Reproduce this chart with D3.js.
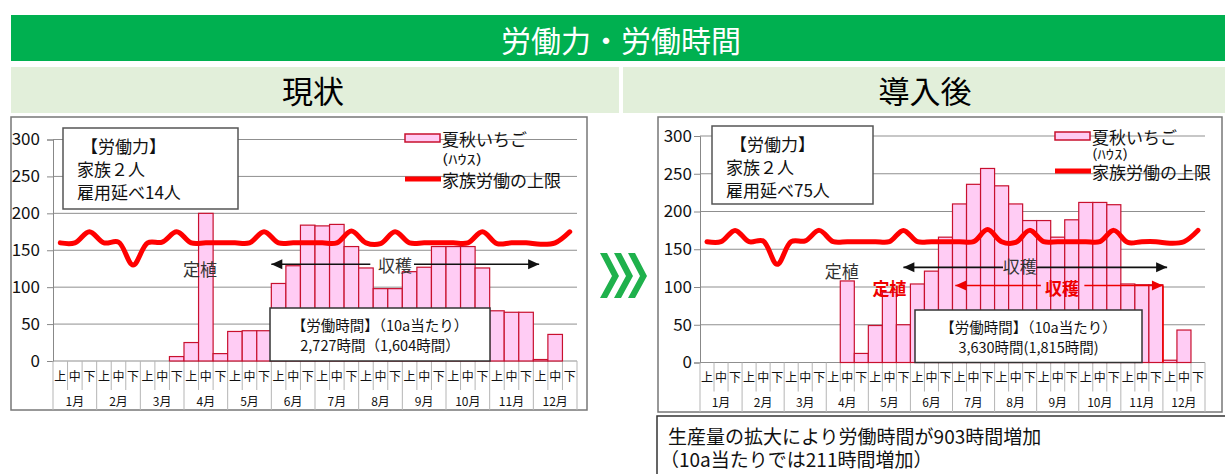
<!DOCTYPE html>
<html>
<head>
<meta charset="utf-8">
<script src="https://cdn.jsdelivr.net/npm/d3@7"></script>
<style>
  body { margin: 0; background: #fff; }
  text { font-family: "Noto Sans CJK JP", "Noto Sans", sans-serif; }
</style>
</head>
<body>
<div id="chart"></div>
<script>
// ---- data ----
const months = ["1月", "2月", "3月", "4月", "5月", "6月", "7月", "8月", "9月", "10月", "11月", "12月"];
const dekads = ["上", "中", "下"];
const categories = months.flatMap(m => dekads.map(d => m + d));
const yTicks = [0, 50, 100, 150, 200, 250, 300];

// 夏秋いちご (ハウス) working hours per dekad
const currentHours = [0, 0, 0, 0, 0, 0, 0, 0, 6, 25, 200, 10, 40, 41, 41, 105, 129, 184,
    183, 185, 155, 126, 98, 98, 121, 127, 155, 155, 155, 126, 68, 66, 66, 2, 36, 0];
const afterHours = [0, 0, 0, 0, 0, 0, 0, 0, 0, 0, 108, 12, 49, 93, 50, 104, 121, 166,
    210, 236, 257, 234, 210, 188, 188, 166, 189, 212, 212, 209, 104, 103, 103, 3, 43, 0];
// 家族労働の上限
const familyLimit = [160, 160, 175, 160, 161, 130, 160, 161, 175, 160, 160, 160, 160, 160, 175, 160, 160, 160,
    160, 160, 176, 160, 159, 175, 160, 160, 160, 160, 160, 175, 159, 160, 160, 158, 160, 175];

const W = 1225, H = 474;
const svg = d3.select("#chart").append("svg")
    .attr("width", W)
    .attr("height", H);

// ---- headers ----
svg.append("rect").attr("x", 11).attr("y", 15).attr("width", W - 11).attr("height", 46).attr("fill", "#00b050");
svg.append("text").attr("x", 621).attr("y", 39).attr("text-anchor", "middle").attr("dominant-baseline", "central")
    .attr("fill", "#fff").attr("font-size", 30).text("労働力・労働時間");

svg.append("rect").attr("x", 11).attr("y", 67).attr("width", 608).attr("height", 46).attr("fill", "#e2efda");
svg.append("rect").attr("x", 623).attr("y", 67).attr("width", W - 623).attr("height", 46).attr("fill", "#e2efda");
svg.append("text").attr("x", 313).attr("y", 89).attr("text-anchor", "middle").attr("dominant-baseline", "central")
    .attr("font-size", 31).text("現状");
svg.append("text").attr("x", 925).attr("y", 89).attr("text-anchor", "middle").attr("dominant-baseline", "central")
    .attr("font-size", 31).text("導入後");

// ---- chart drawing ----
function drawChart(cfg) {
    const g = svg.append("g");

    // outer frame
    g.append("rect")
        .attr("x", cfg.box[0]).attr("y", cfg.box[1])
        .attr("width", cfg.box[2] - cfg.box[0]).attr("height", cfg.box[3] - cfg.box[1])
        .attr("fill", "#fff").attr("stroke", "#777").attr("stroke-width", 1.5);

    const x = d3.scaleBand().domain(categories).range([cfg.x0, cfg.x1]).padding(0);
    const xm = d3.scaleBand().domain(months).range([cfg.x0, cfg.x1]).padding(0);
    const y = d3.scaleLinear().domain([0, 300]).range([cfg.y0, cfg.yTop]);
    const bw = x.bandwidth();

    // gridlines
    g.selectAll(".grid").data(yTicks).enter().append("line")
        .attr("x1", cfg.x0).attr("x2", cfg.x1)
        .attr("y1", d => y(d)).attr("y2", d => y(d))
        .attr("stroke", "#8f8f8f").attr("stroke-width", 1);

    // y axis
    const yAxis = g.append("g")
        .attr("transform", `translate(${cfg.x0},0)`)
        .call(d3.axisLeft(y).tickValues(yTicks).tickSize(6).tickPadding(cfg.tickPad));
    yAxis.select(".domain").attr("stroke", "#888");
    yAxis.selectAll(".tick line").attr("stroke", "#888");
    yAxis.selectAll(".tick text").attr("font-size", 17).attr("fill", "#111")
        .style("font-family", "'Noto Sans CJK JP', sans-serif");

    // category rows: dekad separators and month separators
    const sepIdx = d3.range(categories.length + 1);
    g.selectAll(".sep").data(sepIdx).enter().append("line")
        .attr("x1", i => cfg.x0 + i * bw).attr("x2", i => cfg.x0 + i * bw)
        .attr("y1", cfg.y0)
        .attr("y2", i => i % 3 === 0 ? cfg.box[3] : cfg.y0 + 29)
        .attr("stroke", "#b5b5b5").attr("stroke-width", 1);

    const dAxis = g.append("g")
        .attr("transform", `translate(0,${cfg.y0 + 16})`)
        .call(d3.axisBottom(x).tickSize(0).tickPadding(0).tickFormat(d => d.slice(-1)));
    dAxis.select(".domain").remove();
    dAxis.selectAll("text").attr("font-size", 12).attr("fill", "#111").attr("dy", "0.32em")
        .style("font-family", "'Noto Sans CJK JP', sans-serif");

    const mAxis = g.append("g")
        .attr("transform", `translate(0,${cfg.y0 + 41})`)
        .call(d3.axisBottom(xm).tickSize(0).tickPadding(0));
    mAxis.select(".domain").remove();
    mAxis.selectAll("text").attr("font-size", 12).attr("fill", "#111").attr("dy", "0.32em")
        .style("font-family", "'Noto Sans CJK JP', sans-serif");

    // bars
    const barData = categories.map((c, i) => ({ c, v: cfg.bars[i] })).filter(d => d.v > 0);
    g.selectAll(".bar").data(barData).enter().append("rect")
        .attr("x", d => x(d.c))
        .attr("y", d => y(d.v))
        .attr("width", bw)
        .attr("height", d => y(0) - y(d.v))
        .attr("fill", "#ffccf4")
        .attr("stroke", "#c8102e")
        .attr("stroke-width", 1.2);

    // family labour upper-limit line
    const line = d3.line()
        .x((d, i) => x(categories[i]) + bw / 2)
        .y(d => y(d))
        .curve(d3.curveCatmullRom);
    g.append("path").datum(familyLimit)
        .attr("d", line)
        .attr("fill", "none").attr("stroke", "#ff0000").attr("stroke-width", 5)
        .attr("stroke-linejoin", "round").attr("stroke-linecap", "round");

    // annotations
    const px = idx => cfg.x0 + idx * bw;
    cfg.notes.forEach(n => {
        g.append("text").attr("x", px(n.at)).attr("y", y(n.v))
            .attr("text-anchor", "middle").attr("dominant-baseline", "central")
            .attr("font-size", 17).attr("fill", n.color)
            .attr("font-weight", n.bold ? "bold" : null)
            .text(n.label);
    });
    cfg.arrows.forEach(a => {
        const ay = y(a.v);
        const segs = [[px(a.from), px(a.gap[0])], [px(a.gap[1]), px(a.to)]];
        segs.forEach(s => g.append("line")
            .attr("x1", s[0]).attr("x2", s[1]).attr("y1", ay).attr("y2", ay)
            .attr("stroke", a.color).attr("stroke-width", 1.6));
        g.append("path")
            .attr("d", `M${px(a.from)},${ay} l11,-5 l0,10 z`).attr("fill", a.color);
        g.append("path")
            .attr("d", `M${px(a.to)},${ay} l-11,-5 l0,10 z`).attr("fill", a.color);
        if (a.drop) {
            g.append("line").attr("x1", px(a.to)).attr("x2", px(a.to))
                .attr("y1", ay).attr("y2", y(0))
                .attr("stroke", a.color).attr("stroke-width", 1.6);
        }
    });

    // labour force box
    const lb = cfg.labourBox;
    g.append("rect").attr("x", lb[0]).attr("y", lb[1]).attr("width", lb[2]).attr("height", lb[3])
        .attr("fill", "#fff").attr("stroke", "#555").attr("stroke-width", 1.5);
    ["【労働力】", "家族２人", cfg.hired].forEach((t, i) => {
        g.append("text").attr("x", lb[0] + (i === 0 ? 18 : 14)).attr("y", lb[1] + 25 + i * 23)
            .attr("font-size", 17).attr("fill", "#111").text(t);
    });

    // working hours box
    const hb = cfg.hoursBox;
    g.append("rect").attr("x", hb[0]).attr("y", hb[1]).attr("width", hb[2]).attr("height", hb[3])
        .attr("fill", "#fff").attr("stroke", "#333").attr("stroke-width", 1.5);
    ["【労働時間】（10a当たり）", cfg.hoursText].forEach((t, i) => {
        g.append("text").attr("x", hb[0] + hb[2] / 2).attr("y", hb[1] + 23 + i * 20)
            .attr("text-anchor", "middle").attr("font-size", 14.5).attr("fill", "#111").text(t);
    });

    // legend
    const lg = cfg.legend;
    g.append("rect").attr("x", lg[0]).attr("y", lg[1] - 4).attr("width", 35).attr("height", 8)
        .attr("fill", "#ffccf4").attr("stroke", "#c8102e").attr("stroke-width", 1.5);
    g.append("text").attr("x", lg[0] + 37).attr("y", lg[1]).attr("dominant-baseline", "central")
        .attr("font-size", 17).attr("fill", "#111").text("夏秋いちご");
    g.append("text").attr("x", lg[0] + 37).attr("y", lg[1] + cfg.houseGap + 5)
        .attr("font-size", 13).attr("fill", "#111")
        .attr("textLength", cfg.houseLen).attr("lengthAdjust", "spacingAndGlyphs")
        .text("(ﾊｳｽ)");
    g.append("line").attr("x1", lg[0]).attr("x2", lg[0] + 36)
        .attr("y1", lg[1] + cfg.legendGap).attr("y2", lg[1] + cfg.legendGap)
        .attr("stroke", "#ff0000").attr("stroke-width", 5);
    g.append("text").attr("x", lg[0] + 37).attr("y", lg[1] + cfg.legendGap).attr("dominant-baseline", "central")
        .attr("font-size", 17).attr("fill", "#111").text("家族労働の上限");
}

drawChart({
    box: [11, 117, 587, 410],
    x0: 53, x1: 577, y0: 361, yTop: 139.5, tickPad: 7,
    bars: currentHours,
    hired: "雇用延べ14人",
    hoursText: "2,727時間（1,604時間）",
    labourBox: [63, 128, 175, 81],
    hoursBox: [270, 308, 220, 53],
    legend: [405, 138],
    houseGap: 21, houseLen: 40,
    legendGap: 41,
    notes: [
        { label: "定植", at: 10.1, v: 125, color: "#333" },
        { label: "収穫", at: 23.5, v: 131, color: "#333" }
    ],
    arrows: [
        { from: 15, to: 33.4, v: 131, gap: [21.8, 24.8], color: "#111" }
    ]
});

drawChart({
    box: [658, 117, 1222, 412],
    x0: 700, x1: 1205, y0: 362.5, yTop: 136, tickPad: 2,
    bars: afterHours,
    hired: "雇用延べ75人",
    hoursText: "3,630時間(1,815時間)",
    labourBox: [712, 126, 161, 78],
    hoursBox: [915, 310, 227, 52.5],
    legend: [1055, 136],
    houseGap: 18, houseLen: 36,
    legendGap: 35,
    notes: [
        { label: "定植", at: 10.1, v: 122, color: "#333" },
        { label: "定植", at: 13.5, v: 100, color: "#ee0000", bold: true },
        { label: "収穫", at: 22.8, v: 128, color: "#333" },
        { label: "収穫", at: 25.8, v: 100, color: "#ee0000", bold: true }
    ],
    arrows: [
        { from: 14.5, to: 33.3, v: 126, gap: [21.6, 24.0], color: "#111" },
        { from: 18.2, to: 33.0, v: 102, gap: [24.3, 27.4], color: "#ee0000", drop: true }
    ]
});

// ---- chevrons between panels ----
[0, 1, 2].forEach(i => {
    const x0 = 600 + i * 14;
    svg.append("path")
        .attr("d", `M${x0},253 L${x0 + 7},253 L${x0 + 19},276 L${x0 + 7},298 L${x0},298 L${x0 + 12},276 Z`)
        .attr("fill", "#1fb14c");
});

// ---- summary box ----
svg.append("rect").attr("x", 657).attr("y", 416).attr("width", 580).attr("height", 70)
    .attr("fill", "#fff").attr("stroke", "#333").attr("stroke-width", 1.5);
svg.append("text").attr("x", 668).attr("y", 444).attr("font-size", 19).attr("fill", "#111")
    .text("生産量の拡大により労働時間が903時間増加");
svg.append("text").attr("x", 660).attr("y", 467).attr("font-size", 19).attr("fill", "#111")
    .text("（10a当たりでは211時間増加）");
</script>
</body>
</html>
